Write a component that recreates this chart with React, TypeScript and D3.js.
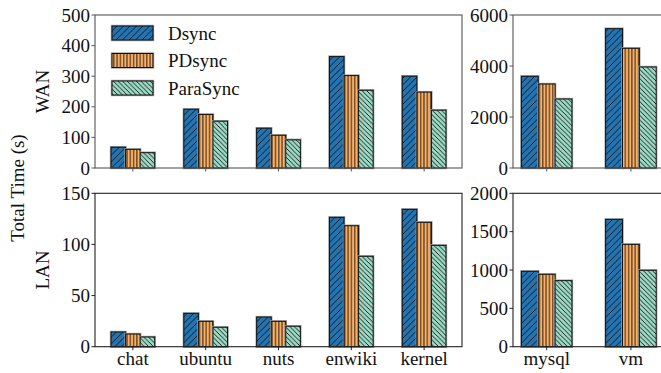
import React from "react";
import * as d3 from "d3";

const series = ["Dsync", "PDsync", "ParaSync"];
const leftCats = ["chat", "ubuntu", "nuts", "enwiki", "kernel"];
const rightCats = ["mysql", "vm"];

const wanLeft = [
  [68, 61, 50],
  [192, 175, 153],
  [130, 107, 92],
  [364, 302, 254],
  [300, 248, 189],
];
const wanRight = [
  [3596, 3294, 2706],
  [5463, 4694, 3961],
];
const lanLeft = [
  [14.4, 12.4, 9.5],
  [32.6, 24.8, 19.0],
  [29, 24.8, 20.0],
  [126.5, 118.3, 88.4],
  [134.3, 121.6, 99.1],
];
const lanRight = [
  [983, 944, 861],
  [1660, 1334, 996],
];

const wanLeftTicks = [0, 100, 200, 300, 400, 500];
const wanRightTicks = [0, 2000, 4000, 6000];
const lanLeftTicks = [0, 50, 100, 150];
const lanRightTicks = [0, 500, 1000, 1500, 2000];

const colors = ["#2474b2", "#fdb062", "#9bd9c5"];
const patterns = ["hD", "hP", "hR"];
const FONT = "Liberation Serif, Times New Roman, serif";
const FS = 19;

type PanelProps = {
  x0: number; x1: number; y0: number; y1: number;
  cats: string[]; data: number[][]; ymax: number; ticks: number[];
  xdom: [number, number]; showLabels: boolean; spine: string;
};

function Panel(p: PanelProps) {
  const x = d3.scaleLinear().domain(p.xdom).range([p.x0, p.x1]);
  const y = d3.scaleLinear().domain([0, p.ymax]).range([p.y1, p.y0]);
  const bw = x(0.2) - x(0);
  return (
    <g>
      {p.data.map((vals, i) =>
        vals.map((v, j) => {
          const cx = x(i + (j - 1) * 0.2);
          const top = y(v);
          const h = y(0) - top;
          return (
            <g key={`${i}-${j}`}>
              <rect x={cx - bw / 2} y={top} width={bw} height={h} fill="none" stroke="#a0a0a0" strokeWidth={2.4} />
              <rect x={cx - bw / 2} y={top} width={bw} height={h} fill={colors[j]} />
              <rect x={cx - bw / 2} y={top} width={bw} height={h} fill={`url(#${patterns[j]})`} stroke="#111" strokeWidth={1} />
            </g>
          );
        })
      )}
      <rect x={p.x0} y={p.y0} width={p.x1 - p.x0} height={p.y1 - p.y0} fill="none" stroke={p.spine} strokeWidth={1.1} />
      {p.ticks.map((t) => (
        <g key={t}>
          <line x1={p.x0 - 3.5} x2={p.x0} y1={y(t)} y2={y(t)} stroke={p.spine} strokeWidth={1} />
          <text x={p.x0 - 5} y={y(t)} dy="0.35em" textAnchor="end" fontSize={FS} fontFamily={FONT} fill="#111">{t}</text>
        </g>
      ))}
      {p.cats.map((c, i) => (
        <g key={c}>
          <line x1={x(i)} x2={x(i)} y1={p.y1} y2={p.y1 + 3.5} stroke={p.spine} strokeWidth={1} />
          {p.showLabels && (
            <text x={x(i)} y={p.y1 + 18.5} textAnchor="middle" fontSize={FS} fontFamily={FONT} fill="#111">{c}</text>
          )}
        </g>
      ))}
    </g>
  );
}

export default function App() {
  const topY: [number, number] = [15, 168];
  const botY: [number, number] = [193.3, 346.7];
  const L: [number, number] = [95, 462];
  const R: [number, number] = [513, 664.6];
  const legendY = [33, 60.5, 88];
  return (
    <svg width={661} height={373} style={{ position: "absolute", left: 0, top: 0, background: "#fff" }}>
      <defs>
        <pattern id="hD" patternUnits="userSpaceOnUse" width={6.5} height={6.5}>
          <path d="M-1,1 l2,-2 M0,6.5 l6.5,-6.5 M5.5,7.5 l2,-2" stroke="#111" strokeWidth={0.9} />
        </pattern>
        <pattern id="hP" patternUnits="userSpaceOnUse" width={3.3} height={10}>
          <path d="M1.6,0 V10" stroke="#111" strokeWidth={0.9} />
        </pattern>
        <pattern id="hR" patternUnits="userSpaceOnUse" width={4.6} height={4.6}>
          <path d="M-1,3.6 l2,2 M0,0 l4.6,4.6 M3.6,-1 l2,2" stroke="#111" strokeWidth={0.9} />
        </pattern>
      </defs>
      <Panel x0={L[0]} x1={L[1]} y0={topY[0]} y1={topY[1]} cats={leftCats} data={wanLeft} ymax={500} ticks={wanLeftTicks} xdom={[-0.52, 4.52]} showLabels={false} spine="#555" />
      <Panel x0={R[0]} x1={R[1]} y0={topY[0]} y1={topY[1]} cats={rightCats} data={wanRight} ymax={6000} ticks={wanRightTicks} xdom={[-0.4, 1.4]} showLabels={false} spine="#555" />
      <Panel x0={L[0]} x1={L[1]} y0={botY[0]} y1={botY[1]} cats={leftCats} data={lanLeft} ymax={150} ticks={lanLeftTicks} xdom={[-0.52, 4.52]} showLabels={true} spine="#222" />
      <Panel x0={R[0]} x1={R[1]} y0={botY[0]} y1={botY[1]} cats={rightCats} data={lanRight} ymax={2000} ticks={lanRightTicks} xdom={[-0.4, 1.4]} showLabels={true} spine="#222" />
      {series.map((s, j) => (
        <g key={s}>
          <rect x={112} y={legendY[j] - 7} width={41} height={14} fill="none" stroke="#a0a0a0" strokeWidth={2.4} />
          <rect x={112} y={legendY[j] - 7} width={41} height={14} fill={colors[j]} />
          <rect x={112} y={legendY[j] - 7} width={41} height={14} fill={`url(#${patterns[j]})`} stroke="#111" strokeWidth={1} />
          <text x={168} y={legendY[j]} dy="0.35em" fontSize={FS} fontFamily={FONT} fill="#111">{s}</text>
        </g>
      ))}
      <text transform="translate(24,188) rotate(-90)" textAnchor="middle" fontSize={FS} fontFamily={FONT} fill="#111">Total Time (s)</text>
      <text transform="translate(49,91.5) rotate(-90)" textAnchor="middle" fontSize={FS} fontFamily={FONT} fill="#111">WAN</text>
      <text transform="translate(49,270) rotate(-90)" textAnchor="middle" fontSize={FS} fontFamily={FONT} fill="#111">LAN</text>
    </svg>
  );
}
